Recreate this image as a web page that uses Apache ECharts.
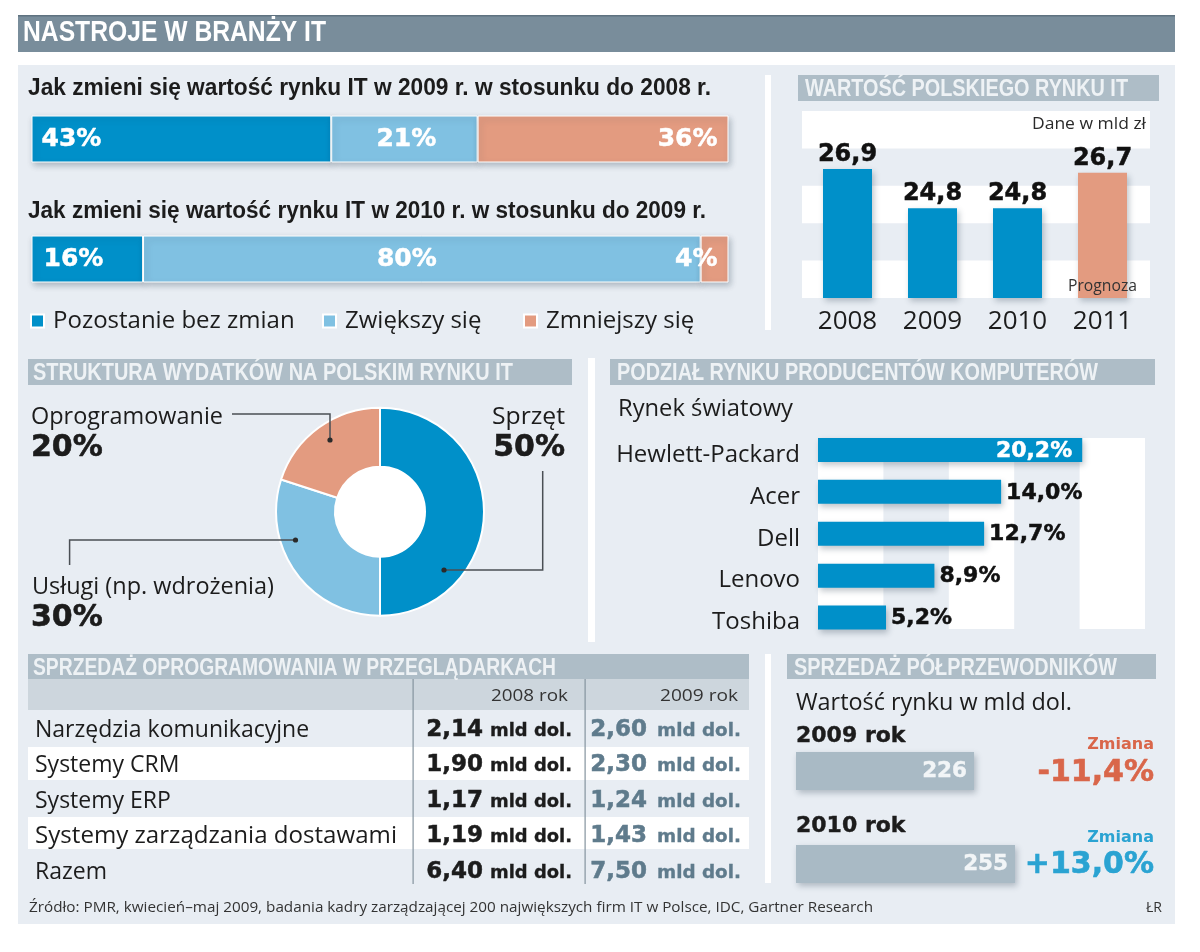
<!DOCTYPE html>
<html><head><meta charset="utf-8">
<style>html,body{margin:0;padding:0;background:#fff}#c{width:1200px;height:952px}</style>
<script src="https://cdn.jsdelivr.net/npm/echarts@6/dist/echarts.min.js"></script>
</head><body><div id="c"></div>
<script>
// ---- data ----
const moodRows = ['2009', '2010'];
const moodNames = ['Pozostanie bez zmian', 'Zwiększy się', 'Zmniejszy się'];
const moodSame = [43, 16];
const moodUp = [21, 80];
const moodDown = [36, 4];
const marketYears = ['2008', '2009', '2010', '2011'];
const marketValues = [26.9, 24.8, 24.8, 26.7];
const spendNames = ['Sprzęt', 'Usługi (np. wdrożenia)', 'Oprogramowanie'];
const spendValues = [50, 30, 20];
const vendorNames = ['Hewlett-Packard', 'Acer', 'Dell', 'Lenovo', 'Toshiba'];
const vendorShares = [20.2, 14.0, 12.7, 8.9, 5.2];
const softwareNames = ['Narzędzia komunikacyjne', 'Systemy CRM', 'Systemy ERP', 'Systemy zarządzania dostawami', 'Razem'];
const software2008 = [2.14, 1.90, 1.17, 1.19, 6.40];
const software2009 = [2.60, 2.30, 1.24, 1.43, 7.50];
const chipYears = ['2009 rok', '2010 rok'];
const chipValues = [226, 255];
const chipChanges = ['-11,4%', '+13,0%'];

const BLUE = '#0090c9', LIGHT = '#80c1e2', SALMON = '#e39b80';
const PANEL = '#e8edf3', HEAD = '#aebdc7', INK = '#1c1c1c';
const REG = '"Open Sans"', NUM = '"DejaVu Sans"', HEADF = '"Liberation Sans"';
const shadow = {shadowBlur: 6, shadowColor: 'rgba(30,50,70,.28)', shadowOffsetX: 2, shadowOffsetY: 3};
const comma = (v, d) => v.toFixed(d).replace('.', ',');

// ---- helpers for page furniture ----
const mctx = document.createElement('canvas').getContext('2d');
function txt(x, y, text, font, fill, opt) {
  opt = opt || {};
  let sx = 1;
  if (opt.w) { mctx.font = font; sx = opt.w / mctx.measureText(text).width; }
  const style = {text, font, fill, textAlign: opt.align || 'left', align: opt.align || 'left',
            textVerticalAlign: 'middle', verticalAlign: 'middle'};
  if (opt.heavy) { style.stroke = fill; style.lineWidth = opt.heavy; }
  return {type: 'text', x, y: y + 2, scaleX: sx, z: 100, silent: true, style};
}
function rect(x0, y0, x1, y1, fill, z) {
  return {type: 'rect', z: z === undefined ? -10 : z, silent: true,
    shape: {x: x0, y: y0, width: x1 - x0, height: y1 - y0}, style: {fill}};
}
function leader(points) {
  const end = points[points.length - 1];
  return [
    {type: 'polyline', z: 50, silent: true, shape: {points}, style: {stroke: '#4a4f54', lineWidth: 1.5, fill: null}},
    {type: 'circle', z: 51, silent: true, shape: {cx: end[0], cy: end[1], r: 2.6}, style: {fill: '#2a2a2a'}}
  ];
}
const sectionTitle = (x, y, text, w) => txt(x, y - 2, text, 'bold 24px ' + HEADF, '#eef2f5', {w});

const g = [];
// panels and section bars
g.push(rect(18, 65, 1175, 924, PANEL, -20));
g.push(rect(18, 15, 1175, 52, '#798d9b'));
g.push(rect(18, 15, 1175, 16.5, '#5f7280'));
g.push(rect(765, 75, 771, 330, '#fff'), rect(588, 358, 595, 642, '#fff'), rect(765, 654, 771, 883, '#fff'));
g.push(rect(798, 75, 1159, 101, HEAD), rect(28, 359, 572, 385, HEAD), rect(610, 359, 1155, 385, HEAD));
g.push(rect(28, 654, 749, 679, HEAD), rect(787, 654, 1156, 679, HEAD));
g.push(rect(28, 679, 749, 710, '#cdd6dd'), rect(28, 747, 749, 780, '#fff'), rect(28, 817, 749, 849, '#fff'));
g.push(rect(412.5, 679, 413.7, 884, '#84939e', -5), rect(584.5, 679, 585.7, 884, '#84939e', -5));
// donut hole
g.push({type: 'circle', z: -5, silent: true, shape: {cx: 380, cy: 511.7, r: 46}, style: {fill: '#fff'}});

// titles
g.push(txt(23, 31, 'NASTROJE W BRANŻY IT', 'bold 29px ' + HEADF, '#fff', {w: 303}));
g.push(sectionTitle(805, 89, 'WARTOŚĆ POLSKIEGO RYNKU IT', 323));
g.push(sectionTitle(33, 373, 'STRUKTURA WYDATKÓW NA POLSKIM RYNKU IT', 480));
g.push(sectionTitle(617, 373, 'PODZIAŁ RYNKU PRODUCENTÓW KOMPUTERÓW', 481));
g.push(sectionTitle(33, 668, 'SPRZEDAŻ OPROGRAMOWANIA W PRZEGLĄDARKACH', 523));
g.push(sectionTitle(794, 668, 'SPRZEDAŻ PÓŁPRZEWODNIKÓW', 323));

// first block
g.push(txt(28, 87, 'Jak zmieni się wartość rynku IT w 2009 r. w stosunku do 2008 r.', 'bold 23px ' + HEADF, INK, {w: 683}));
g.push(txt(28, 210, 'Jak zmieni się wartość rynku IT w 2010 r. w stosunku do 2009 r.', 'bold 23px ' + HEADF, INK, {w: 678}));
g.push(txt(1146, 122, 'Dane w mld zł', '16px ' + REG, '#2a2a2a', {align: 'right', w: 114}));
g.push(txt(1137, 284, 'Prognoza', '16px ' + REG, '#333', {align: 'right', w: 69}));

// donut captions
g.push(txt(31, 415, spendNames[2], '23px ' + REG, INK, {w: 192}));
g.push(txt(31, 446, spendValues[2] + '%', 'bold 30px ' + NUM, INK, {heavy: .6}));
g.push(txt(565, 415, spendNames[0], '23px ' + REG, INK, {align: 'right', w: 73}));
g.push(txt(565, 446, spendValues[0] + '%', 'bold 30px ' + NUM, INK, {align: 'right', heavy: .6}));
g.push(txt(32, 585, spendNames[1], '23px ' + REG, INK, {w: 242}));
g.push(txt(31, 616, spendValues[1] + '%', 'bold 30px ' + NUM, INK, {heavy: .6}));
g.push(...leader([[232, 414], [330, 414], [330, 440]]));
g.push(...leader([[542.7, 471], [542.7, 570], [444, 570]]));
g.push(...leader([[69.6, 565], [69.6, 540], [295.5, 540]]));

g.push(txt(618, 407, 'Rynek światowy', '23px ' + REG, INK, {w: 175}));

// table
g.push(txt(568, 694, '2008 rok', '17px ' + REG, '#333', {align: 'right', w: 77}));
g.push(txt(738, 694, '2009 rok', '17px ' + REG, '#333', {align: 'right', w: 78}));
const rowY = [729, 764, 800, 835, 871];
softwareNames.forEach((name, i) => {
  g.push(txt(35, rowY[i] - 1, name, '23px ' + REG, INK, i === 3 ? {w: 362} : {}));
  [[software2008, 572, INK, 82, 89], [software2009, 741, '#5f7b8c', 84, 94]].forEach(([vals, right, col, w, gap]) => {
    g.push(txt(right, rowY[i] + 0.5, 'mld dol.', 'bold 17px ' + NUM, col, {align: 'right', w, heavy: .3}));
    g.push(txt(right - gap, rowY[i] - 1, comma(vals[i], 2), 'bold 23px ' + NUM, col, {align: 'right', heavy: .5}));
  });
});

// chips
g.push(txt(796, 701, 'Wartość rynku w mld dol.', '23px ' + REG, INK, {w: 276}));
g.push(txt(796, 734, chipYears[0], 'bold 22px ' + NUM, INK, {heavy: .4}));
g.push(txt(796, 824, chipYears[1], 'bold 22px ' + NUM, INK, {heavy: .4}));
g.push(txt(1154, 743, 'Zmiana', 'bold 16px ' + NUM, '#d9664a', {align: 'right'}));
g.push(txt(1154, 771, chipChanges[0], 'bold 30px ' + NUM, '#d9664a', {align: 'right', heavy: .6}));
g.push(txt(1154, 836, 'Zmiana', 'bold 16px ' + NUM, '#2aa3d2', {align: 'right'}));
g.push(txt(1154, 863, chipChanges[1], 'bold 30px ' + NUM, '#2aa3d2', {align: 'right', heavy: .6}));

// footer
g.push(txt(29, 906, 'Źródło: PMR, kwiecień–maj 2009, badania kadry zarządzającej 200 największych firm IT w Polsce, IDC, Gartner Research', '14px ' + REG, '#333', {w: 844}));
g.push(txt(1162, 906, 'ŁR', '14px ' + REG, '#333', {align: 'right'}));

// ---- chart option ----
const hiddenValue = (gridIndex, min, max) => ({type: 'value', gridIndex, min, max, show: false});
const hiddenCat = (gridIndex, data) => ({type: 'category', gridIndex, data, inverse: true, show: false});
const stripeAxis = (gridIndex, min, max, interval) => ({
  type: 'value', gridIndex, min, max, interval,
  axisLine: {show: false}, axisTick: {show: false}, axisLabel: {show: false}, splitLine: {show: false},
  splitArea: {show: true, areaStyle: {color: ['#fff', 'rgba(255,255,255,0)']}}
});

const heavy = (color, w) => ({color, textBorderColor: color, textBorderWidth: w});
const moodLabel = (val, pos, extra) => Object.assign({
  show: true, position: pos, fontFamily: NUM, fontWeight: 'bold', fontSize: 25,
  formatter: val + '%'
}, heavy('#fff', .5), extra || {});
const moodItems = (vals, labels) => vals.map((v, i) => ({value: v, label: labels[i]}));

const option = {
  animation: false,
  backgroundColor: '#fff',
  graphic: {elements: g},
  legend: moodNames.map((n, i) => ({
    data: [n], left: [30, 322, 523][i], top: 309, padding: 0, icon: 'rect', itemWidth: 13, itemHeight: 13,
    selectedMode: false,
    textStyle: {fontFamily: REG, fontSize: 24, color: INK, padding: [3, 0, 0, 4]}
  })),
  grid: [
    {left: 31.5, top: 79, width: 697, height: 240},
    {left: 805, top: 111, width: 340, height: 187},
    {left: 802, top: 111, width: 348, height: 187},
    {left: 818, top: 429, width: 327, height: 209.5},
    {left: 818, top: 438, width: 327, height: 191},
    {left: 796, top: 724.5, width: 282.6, height: 186}
  ],
  xAxis: [
    hiddenValue(0, 0, 100),
    {type: 'category', gridIndex: 1, data: marketYears, axisLine: {show: false}, axisTick: {show: false},
     axisLabel: {fontFamily: REG, fontSize: 26, color: INK, margin: 11}},
    hiddenValue(2, 0, 1),
    hiddenValue(3, 0, 25),
    stripeAxis(4, 0, 25, 5),
    hiddenValue(5, 100, 300)
  ],
  yAxis: [
    hiddenCat(0, moodRows),
    hiddenValue(1, 20, 30),
    stripeAxis(2, 20, 30, 2),
    {type: 'category', gridIndex: 3, data: vendorNames, inverse: true, axisLine: {show: false}, axisTick: {show: false},
     axisLabel: {fontFamily: REG, fontSize: 24, color: INK, margin: 18, verticalAlign: 'top', lineHeight: 10}},
    hiddenValue(4, 0, 1),
    hiddenCat(5, chipYears)
  ],
  series: [
    {name: moodNames[0], type: 'bar', stack: 'm', xAxisIndex: 0, yAxisIndex: 0, barWidth: 47,
     itemStyle: Object.assign({color: BLUE, borderColor: '#fff', borderWidth: 1}, shadow),
     data: moodItems(moodSame, [moodLabel(moodSame[0], 'insideLeft', {distance: 10}), moodLabel(moodSame[1], 'insideLeft', {distance: 12})])},
    {name: moodNames[1], type: 'bar', stack: 'm', xAxisIndex: 0, yAxisIndex: 0, barWidth: 47,
     itemStyle: Object.assign({color: LIGHT, borderColor: '#fff', borderWidth: 1}, shadow),
     data: moodItems(moodUp, [moodLabel(moodUp[0], 'inside', {offset: [2, 0]}), moodLabel(moodUp[1], 'inside', {offset: [-15, 0]})])},
    {name: moodNames[2], type: 'bar', stack: 'm', xAxisIndex: 0, yAxisIndex: 0, barWidth: 47,
     itemStyle: Object.assign({color: SALMON, borderColor: '#fff', borderWidth: 1}, shadow),
     data: moodItems(moodDown, [moodLabel(moodDown[0], 'insideRight', {distance: 11}), moodLabel(moodDown[1], 'insideRight', {distance: 11})])},
    {type: 'bar', xAxisIndex: 1, yAxisIndex: 1, barWidth: 49,
     itemStyle: Object.assign({color: BLUE}, shadow),
     label: Object.assign({show: true, position: 'top', distance: 2, fontFamily: NUM, fontWeight: 'bold', fontSize: 24,
             formatter: p => comma(p.value, 1)}, heavy('#111', .5)),
     data: marketValues.map((v, i) => i === 3 ? {value: v, itemStyle: {color: SALMON}} : v)},
    {type: 'bar', xAxisIndex: 3, yAxisIndex: 3, barWidth: 24,
     itemStyle: Object.assign({color: BLUE}, shadow),
     label: Object.assign({show: true, position: 'right', distance: 5, fontFamily: NUM, fontWeight: 'bold', fontSize: 22,
             offset: [0, 1], formatter: p => comma(p.value, 1) + '%'}, heavy('#111', .5)),
     data: vendorShares.map((v, i) => i === 0 ? {value: v, label: Object.assign({position: 'insideRight', distance: 10}, heavy('#fff', .5))} : v)},
    {type: 'bar', xAxisIndex: 5, yAxisIndex: 5, barWidth: 38,
     itemStyle: Object.assign({color: '#a9bac5'}, shadow),
     label: Object.assign({show: true, position: 'insideRight', distance: 7, fontFamily: NUM, fontWeight: 'bold', fontSize: 21.5}, heavy('#f2f5f7', .4)),
     data: chipValues},
    {type: 'pie', center: [380, 511.7], radius: [45, 104], startAngle: 90, silent: true,
     label: {show: false}, labelLine: {show: false},
     itemStyle: {borderColor: '#fff', borderWidth: 2},
     color: [BLUE, LIGHT, SALMON],
     data: spendNames.map((n, i) => ({name: n, value: spendValues[i]}))}
  ]
};
echarts.init(document.getElementById('c'), null, {renderer: 'canvas', width: 1200, height: 952}).setOption(option);
</script></body></html>
